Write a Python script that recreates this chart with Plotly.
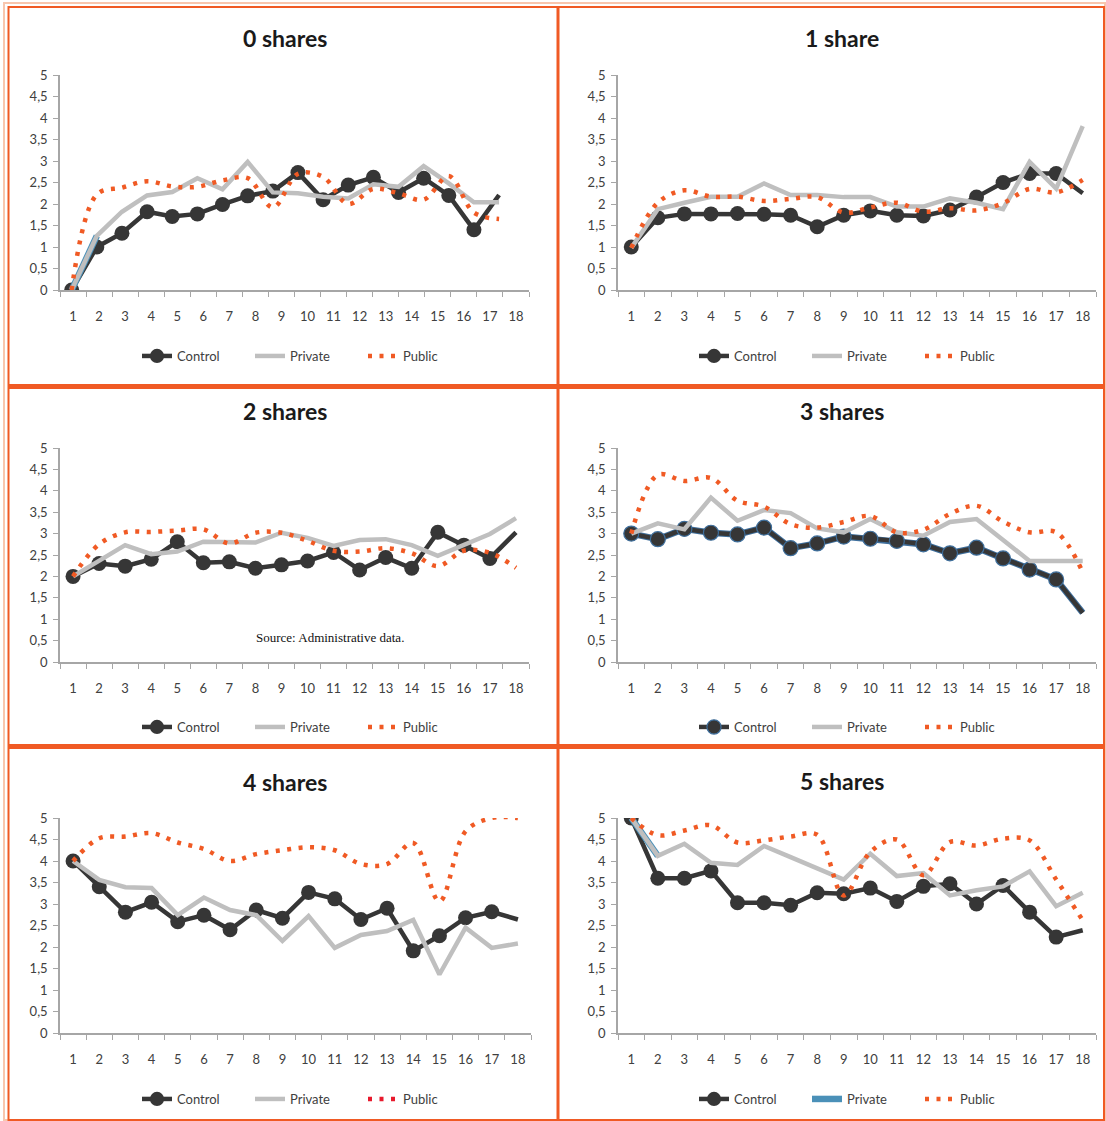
import plotly.graph_objects as go

W, H = 1106, 1121

categories = list(range(1, 19))
tick_text = [str(c) for c in categories]
y_ticks = [0, 0.5, 1, 1.5, 2, 2.5, 3, 3.5, 4, 4.5, 5]

titles = ["0 shares", "1 share", "2 shares", "3 shares", "4 shares", "5 shares"]

control_0 = [0, 1.0, 1.32, 1.82, 1.71, 1.77, 1.99, 2.19, 2.3, 2.73, 2.1, 2.44, 2.62, 2.27, 2.6, 2.2, 1.4, 2.21]
private_0 = [0, 1.26, 1.82, 2.2, 2.28, 2.6, 2.34, 2.98, 2.27, 2.25, 2.17, 2.13, 2.46, 2.4, 2.88, 2.48, 2.04, 2.04]
public_0 = [0, 2.22, 2.38, 2.53, 2.41, 2.4, 2.55, 2.6, 1.92, 2.7, 2.63, 2.0, 2.35, 2.25, 2.1, 2.65, 1.8, 1.65]

control_1 = [1.0, 1.68, 1.77, 1.77, 1.78, 1.76, 1.74, 1.47, 1.74, 1.84, 1.74, 1.72, 1.86, 2.16, 2.5, 2.71, 2.71, 2.25]
private_1 = [0.98, 1.88, 2.03, 2.17, 2.17, 2.48, 2.21, 2.21, 2.16, 2.16, 1.94, 1.94, 2.13, 2.03, 1.88, 2.98, 2.36, 3.81]
public_1 = [0.98, 2.03, 2.32, 2.17, 2.17, 2.07, 2.12, 2.16, 1.8, 1.92, 2.03, 1.82, 1.9, 1.85, 2.02, 2.35, 2.27, 2.56]

control_2 = [2.0, 2.3, 2.24, 2.4, 2.81, 2.32, 2.34, 2.19, 2.27, 2.36, 2.56, 2.15, 2.44, 2.19, 3.03, 2.73, 2.42, 3.03]
private_2 = [2.0, 2.35, 2.73, 2.52, 2.58, 2.81, 2.8, 2.79, 3.02, 2.9, 2.71, 2.85, 2.87, 2.73, 2.48, 2.73, 2.99, 3.36]
public_2 = [2.0, 2.75, 3.03, 3.04, 3.07, 3.1, 2.77, 3.02, 3.02, 2.83, 2.6, 2.58, 2.66, 2.54, 2.24, 2.6, 2.55, 2.2]

control_3 = [3.0, 2.87, 3.11, 3.02, 2.98, 3.14, 2.66, 2.77, 2.93, 2.88, 2.83, 2.75, 2.54, 2.67, 2.42, 2.16, 1.93, 1.15]
private_3 = [3.0, 3.24, 3.1, 3.84, 3.3, 3.55, 3.48, 3.12, 3.03, 3.34, 3.03, 2.95, 3.27, 3.34, 2.85, 2.36, 2.36, 2.36]
public_3 = [3.0, 4.37, 4.23, 4.3, 3.77, 3.63, 3.22, 3.14, 3.27, 3.41, 3.03, 3.09, 3.46, 3.65, 3.28, 3.03, 3.03, 2.1]

control_4 = [4.0, 3.4, 2.81, 3.04, 2.59, 2.74, 2.4, 2.86, 2.67, 3.27, 3.12, 2.64, 2.9, 1.91, 2.26, 2.68, 2.82, 2.64]
private_4 = [4.0, 3.56, 3.39, 3.37, 2.74, 3.15, 2.86, 2.74, 2.14, 2.72, 1.98, 2.28, 2.37, 2.63, 1.36, 2.45, 1.98, 2.08]
public_4 = [4.0, 4.53, 4.57, 4.65, 4.43, 4.28, 4.0, 4.16, 4.25, 4.32, 4.25, 3.93, 3.93, 4.42, 3.06, 4.69, 5.0, 5.0]

control_5 = [5.0, 3.6, 3.6, 3.77, 3.03, 3.03, 2.97, 3.26, 3.24, 3.37, 3.06, 3.41, 3.47, 3.0, 3.43, 2.81, 2.23, 2.39]
private_5 = [5.0, 4.12, 4.4, 3.96, 3.91, 4.35, 4.09, 3.84, 3.57, 4.17, 3.65, 3.72, 3.2, 3.32, 3.41, 3.76, 2.95, 3.26]
public_5 = [5.0, 4.6, 4.71, 4.83, 4.43, 4.48, 4.57, 4.61, 3.2, 4.21, 4.5, 3.67, 4.44, 4.36, 4.52, 4.48, 3.57, 2.62]

controls = [control_0, control_1, control_2, control_3, control_4, control_5]
privates = [private_0, private_1, private_2, private_3, private_4, private_5]
publics = [public_0, public_1, public_2, public_3, public_4, public_5]

# colours
ORANGE = "#f05a24"
DARK = "#363636"
GREY = "#bfbfbf"
BLUE = "#4a90b8"
RIM = "#3f6f9c"
RED = "#e8192c"
TXT = "#404040"
AXIS = "#a6a6a6"
FONT = "Lato"
DOTS = "4px,7.5px"


def px_x(v):
    return v / W


def px_y(v):
    return 1 - v / H


# plot-area boxes in pixels: (left, right, top, bottom)
boxes = [
    (60, 529, 75, 290),
    (618, 1096, 75, 290),
    (60, 529, 448, 662),
    (618, 1096, 448, 662),
    (60, 531, 818, 1033),
    (618, 1096, 818, 1033),
]
# x range of each panel; the first panel's series sit on a slightly tighter spacing
x_ranges = [(0.536, 19.19), (0.5, 18.5), (0.5, 18.5), (0.5, 18.5), (0.5, 18.5), (0.5, 18.5)]
title_centres = [(285, 38), (842, 38), (285, 411), (842, 411), (285, 782), (842, 781)]
legend_pos = [(137, 356), (694, 356), (137, 727), (694, 727), (137, 1099), (694, 1099)]

fig = go.Figure()
layout = dict(
    width=W, height=H, autosize=False,
    margin=dict(l=0, r=0, t=0, b=0, pad=0),
    paper_bgcolor="white", plot_bgcolor="white",
    separators=",.",
    font=dict(family=FONT, size=13, color=TXT),
    showlegend=True,
)

annotations = []
for i in range(6):
    n = i + 1
    l, r, t, b = boxes[i]
    lo, hi = x_ranges[i]
    step = (hi - lo) / len(categories)
    label_pos = [lo + (k - 0.5) * step for k in range(1, len(categories) + 1)]
    xa = "xaxis" if n == 1 else f"xaxis{n}"
    ya = "yaxis" if n == 1 else f"yaxis{n}"
    xref = "x" if n == 1 else f"x{n}"
    yref = "y" if n == 1 else f"y{n}"
    layout[xa] = dict(
        domain=[px_x(l), px_x(r)], anchor=yref, range=[lo, hi],
        tickmode="array", tickvals=label_pos, ticktext=tick_text,
        ticks="", showgrid=False, zeroline=False, automargin=False,
        showline=True, linecolor=AXIS, linewidth=1.5,
        tickfont=dict(family=FONT, size=13, color=TXT),
        ticklabelstandoff=14,
        minor=dict(tick0=lo, dtick=step, ticks="outside", ticklen=5,
                   tickcolor=AXIS, tickwidth=1, showgrid=False),
    )
    layout[ya] = dict(
        domain=[px_y(b), px_y(t)], anchor=xref, range=[0, 5],
        tickmode="array", tickvals=y_ticks,
        ticks="outside", ticklen=5, tickcolor=AXIS, tickwidth=1,
        showgrid=False, zeroline=False, automargin=False,
        showline=True, linecolor=AXIS, linewidth=1.5,
        tickfont=dict(family=FONT, size=13, color=TXT),
        ticklabelstandoff=3,
    )
    lx, ly = legend_pos[i]
    lg = "legend" if n == 1 else f"legend{n}"
    layout[lg] = dict(
        orientation="h", x=px_x(lx), y=px_y(ly), xanchor="left", yanchor="middle",
        font=dict(family=FONT, size=13, color=TXT), bgcolor="rgba(0,0,0,0)",
        entrywidth=68, entrywidthmode="pixels", itemsizing="trace",
        tracegroupgap=0,
    )
    cx, cy = title_centres[i]
    annotations.append(dict(
        text=f"<b>{titles[i]}</b>", x=px_x(cx), y=px_y(cy),
        xref="paper", yref="paper", showarrow=False,
        xanchor="center", yanchor="middle",
        font=dict(family=FONT, size=23, color="#1a1a1a"),
    ))

annotations.append(dict(
    text="Source: Administrative data.", x=px_x(330), y=px_y(637),
    xref="paper", yref="paper", showarrow=False, xanchor="center", yanchor="middle",
    font=dict(family="Liberation Serif", size=13, color="#111111"),
))
layout["annotations"] = annotations

marker_sizes = [15] * (len(categories) - 1) + [0]
for i in range(6):
    n = i + 1
    xr = "x" if n == 1 else f"x{n}"
    yr = "y" if n == 1 else f"y{n}"
    lg = "legend" if n == 1 else f"legend{n}"

    if n == 4:
        # blue rim around the control series
        fig.add_trace(go.Scatter(
            x=categories, y=controls[i], xaxis=xr, yaxis=yr, mode="lines",
            line=dict(color=RIM, width=6.5), showlegend=False, hoverinfo="skip",
        ))
    fig.add_trace(go.Scatter(
        x=categories, y=controls[i], xaxis=xr, yaxis=yr, name="Control", legend=lg,
        mode="lines+markers", line=dict(color=DARK, width=4.5),
        marker=dict(size=marker_sizes, color=DARK, opacity=1,
                    line=dict(color=RIM if n == 4 else DARK, width=1.2 if n == 4 else 0)),
    ))

    if n in (1, 6):
        # thin blue rim on the opening segment of the private series
        fig.add_trace(go.Scatter(
            x=categories[:2], y=privates[i][:2], xaxis=xr, yaxis=yr, name="Private",
            legend=lg, mode="lines", line=dict(color=BLUE, width=6.5),
            showlegend=(n == 6),
        ))
    fig.add_trace(go.Scatter(
        x=categories, y=privates[i], xaxis=xr, yaxis=yr, name="Private", legend=lg,
        mode="lines", line=dict(color=GREY, width=4.5), showlegend=(n != 6),
    ))

    fig.add_trace(go.Scatter(
        x=categories, y=publics[i], xaxis=xr, yaxis=yr, name="Public", legend=lg,
        mode="lines", line=dict(color=ORANGE, width=4.5, shape="spline", dash=DOTS),
        showlegend=(n != 5),
    ))
    if n == 5:
        fig.add_trace(go.Scatter(
            x=[None], y=[None], xaxis=xr, yaxis=yr, name="Public", legend=lg,
            mode="lines", line=dict(color=RED, width=4.5, dash=DOTS),
        ))

# panel frame and dividers
shapes = [
    dict(type="rect", xref="paper", yref="paper", x0=px_x(4), x1=px_x(1105), y0=px_y(1120), y1=px_y(3),
         line=dict(color="#f8c6ae", width=2)),
    dict(type="rect", xref="paper", yref="paper", x0=px_x(8.5), x1=px_x(1104), y0=px_y(1120), y1=px_y(7),
         line=dict(color=ORANGE, width=2)),
    dict(type="line", xref="paper", yref="paper", x0=px_x(558), x1=px_x(558), y0=px_y(1120), y1=px_y(7),
         line=dict(color=ORANGE, width=3)),
    dict(type="line", xref="paper", yref="paper", x0=px_x(8.5), x1=px_x(1104), y0=px_y(386.5), y1=px_y(386.5),
         line=dict(color=ORANGE, width=5)),
    dict(type="line", xref="paper", yref="paper", x0=px_x(8.5), x1=px_x(1104), y0=px_y(746.5), y1=px_y(746.5),
         line=dict(color=ORANGE, width=5)),
]
layout["shapes"] = shapes

fig.update_layout(**layout)
fig.write_html("out.html")
